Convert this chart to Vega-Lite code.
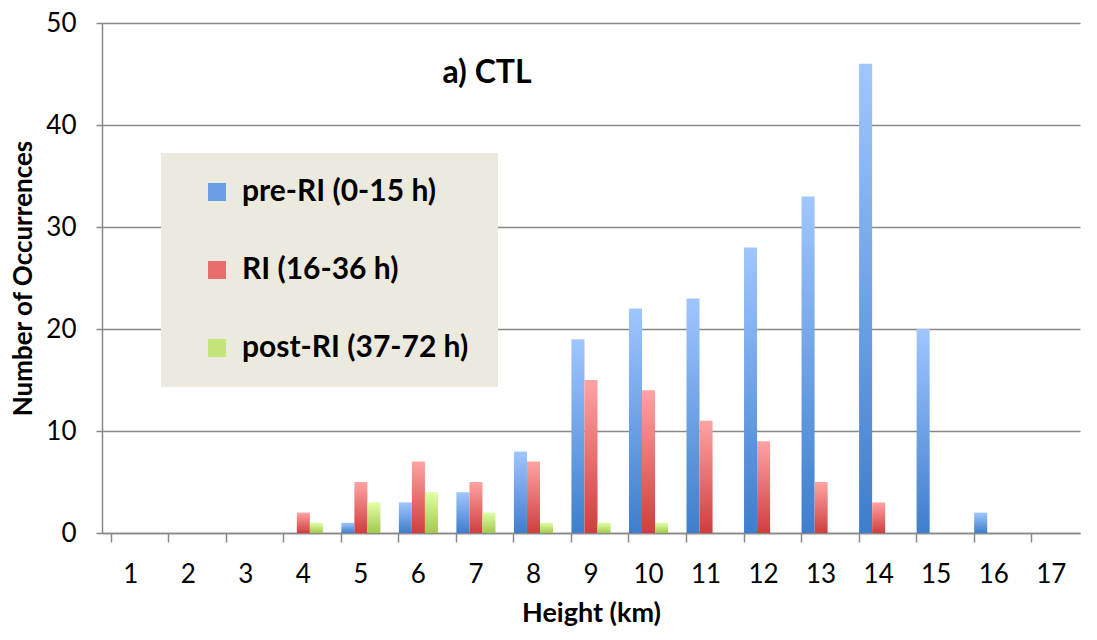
{
  "$schema": "https://vega.github.io/schema/vega-lite/v6.json",
  "autosize": {"type": "none"},
  "width": 978,
  "height": 510,
  "padding": {"left": 102, "top": 23, "right": 17, "bottom": 107},
  "background": "white",
  "title": {
    "text": "a) CTL",
    "anchor": "middle",
    "dx": -104,
    "dy": 84,
    "font": "Lato",
    "fontSize": 32,
    "fontWeight": "bold",
    "color": "black"
  },
  "data": {
    "values": [
      {"height": 5, "series": "pre-RI (0-15 h)", "count": 1},
      {"height": 6, "series": "pre-RI (0-15 h)", "count": 3},
      {"height": 7, "series": "pre-RI (0-15 h)", "count": 4},
      {"height": 8, "series": "pre-RI (0-15 h)", "count": 8},
      {"height": 9, "series": "pre-RI (0-15 h)", "count": 19},
      {"height": 10, "series": "pre-RI (0-15 h)", "count": 22},
      {"height": 11, "series": "pre-RI (0-15 h)", "count": 23},
      {"height": 12, "series": "pre-RI (0-15 h)", "count": 28},
      {"height": 13, "series": "pre-RI (0-15 h)", "count": 33},
      {"height": 14, "series": "pre-RI (0-15 h)", "count": 46},
      {"height": 15, "series": "pre-RI (0-15 h)", "count": 20},
      {"height": 16, "series": "pre-RI (0-15 h)", "count": 2},
      {"height": 4, "series": "RI (16-36 h)", "count": 2},
      {"height": 5, "series": "RI (16-36 h)", "count": 5},
      {"height": 6, "series": "RI (16-36 h)", "count": 7},
      {"height": 7, "series": "RI (16-36 h)", "count": 5},
      {"height": 8, "series": "RI (16-36 h)", "count": 7},
      {"height": 9, "series": "RI (16-36 h)", "count": 15},
      {"height": 10, "series": "RI (16-36 h)", "count": 14},
      {"height": 11, "series": "RI (16-36 h)", "count": 11},
      {"height": 12, "series": "RI (16-36 h)", "count": 9},
      {"height": 13, "series": "RI (16-36 h)", "count": 5},
      {"height": 14, "series": "RI (16-36 h)", "count": 3},
      {"height": 4, "series": "post-RI (37-72 h)", "count": 1},
      {"height": 5, "series": "post-RI (37-72 h)", "count": 3},
      {"height": 6, "series": "post-RI (37-72 h)", "count": 4},
      {"height": 7, "series": "post-RI (37-72 h)", "count": 2},
      {"height": 8, "series": "post-RI (37-72 h)", "count": 1},
      {"height": 9, "series": "post-RI (37-72 h)", "count": 1},
      {"height": 10, "series": "post-RI (37-72 h)", "count": 1}
    ]
  },
  "encoding": {
    "x": {
      "field": "height",
      "type": "ordinal",
      "scale": {"domain": [1,2,3,4,5,6,7,8,9,10,11,12,13,14,15,16,17], "paddingInner": 0.32, "paddingOuter": 0.16},
      "axis": {
        "title": "Height (km)",
        "titleFont": "Lato",
        "titleFontSize": 27,
        "titleFontWeight": "bold",
        "titleColor": "black",
        "titlePadding": 13,
        "labelAngle": 0,
        "labelFont": "Lato",
        "labelFontSize": 26,
        "labelColor": "black",
        "labelPadding": 19,
        "bandPosition": 0,
        "labelBound": false,
        "tickColor": "#888888",
        "tickSize": 9,
        "tickWidth": 1.5,
        "domainColor": "#888888",
        "domainWidth": 1.5,
        "grid": false
      }
    },
    "xOffset": {
      "field": "series",
      "type": "nominal",
      "scale": {"domain": ["pre-RI (0-15 h)", "RI (16-36 h)", "post-RI (37-72 h)"], "paddingInner": 0, "paddingOuter": 0}
    },
    "y": {
      "field": "count",
      "type": "quantitative",
      "scale": {"domain": [0, 50], "nice": false},
      "axis": {
        "values": [0, 10, 20, 30, 40, 50],
        "title": "Number of Occurrences",
        "titleFont": "Lato",
        "titleFontSize": 26,
        "titleFontWeight": "bold",
        "titleColor": "black",
        "titlePadding": 9,
        "labelFont": "Lato",
        "labelFontSize": 26,
        "labelColor": "black",
        "labelPadding": 20,
        "tickColor": "#888888",
        "tickSize": 6,
        "tickWidth": 1.5,
        "domainColor": "#888888",
        "domainWidth": 1.5,
        "gridColor": "#888888",
        "gridWidth": 1.5
      }
    }
  },
  "layer": [
    {
      "mark": {"type": "bar", "opacity": 0},
      "encoding": {
        "color": {
          "field": "series",
          "type": "nominal",
          "scale": {
            "domain": ["pre-RI (0-15 h)", "RI (16-36 h)", "post-RI (37-72 h)"],
            "range": ["#6A9EE6", "#E86E6E", "#C3E57A"]
          },
          "legend": {
            "title": "\u00a0",
            "titleOrient": "right",
            "titlePadding": 6,
            "titleFontSize": 10,
            "orient": "none",
            "legendX": 59,
            "legendY": 130,
            "fillColor": "#ECE9DF",
            "padding": 24,
            "rowPadding": 48,
            "symbolType": "square",
            "symbolSize": 324,
            "symbolOpacity": 1,
            "symbolStrokeWidth": 0,
            "symbolOffset": 17,
            "labelFont": "Lato",
            "labelFontSize": 30,
            "labelFontWeight": "bold",
            "labelColor": "black",
            "labelOffset": 10,
            "labelLimit": 400
          }
        }
      }
    },
    {
      "transform": [{"filter": "datum.series === 'pre-RI (0-15 h)'"}],
      "mark": {"type": "bar", "color": {"gradient": "linear", "x1": 0, "y1": 0, "x2": 0, "y2": 1, "stops": [{"offset": 0, "color": "#A0C6FF"}, {"offset": 1, "color": "#3D7ECC"}]}}
    },
    {
      "transform": [{"filter": "datum.series === 'RI (16-36 h)'"}],
      "mark": {"type": "bar", "color": {"gradient": "linear", "x1": 0, "y1": 0, "x2": 0, "y2": 1, "stops": [{"offset": 0, "color": "#FFA3A3"}, {"offset": 1, "color": "#CF3E3E"}]}}
    },
    {
      "transform": [{"filter": "datum.series === 'post-RI (37-72 h)'"}],
      "mark": {"type": "bar", "color": {"gradient": "linear", "x1": 0, "y1": 0, "x2": 0, "y2": 1, "stops": [{"offset": 0, "color": "#E2FFA6"}, {"offset": 1, "color": "#A2C94F"}]}}
    }
  ],
  "config": {
    "view": {"stroke": null}
  }
}
